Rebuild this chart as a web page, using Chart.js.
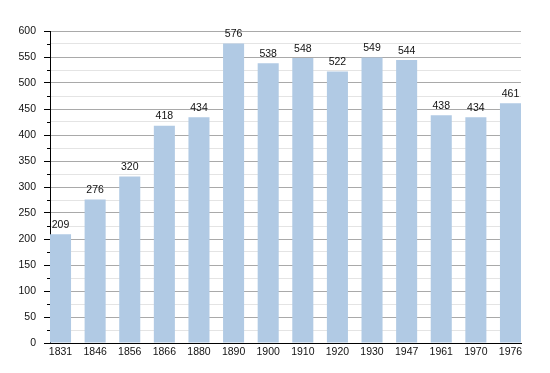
<!DOCTYPE html>
<html>
<head>
<meta charset="utf-8">
<script src="https://cdn.jsdelivr.net/npm/chart.js@4"></script>
<style>
  html, body { margin: 0; padding: 0; background: #fff; }
  #wrap { width: 550px; height: 373px; }
</style>
</head>
<body>
<div id="wrap"><canvas id="popChart" width="550" height="373"></canvas></div>
<script>
const years = ["1831", "1846", "1856", "1866", "1880", "1890", "1900", "1910", "1920", "1930", "1947", "1961", "1970", "1976"];
const population = [209, 276, 320, 418, 434, 576, 538, 548, 522, 549, 544, 438, 434, 461];
const yTicks = [0, 50, 100, 150, 200, 250, 300, 350, 400, 450, 500, 550, 600];

const FONT = "'Liberation Sans', Arial, sans-serif";

// value labels above bars + short minor ticks on the y axis
const extras = {
  id: "extras",
  afterDatasetsDraw(chart) {
    const { ctx } = chart;
    const y = chart.scales.y;
    ctx.save();
    ctx.strokeStyle = "#000";
    ctx.lineWidth = 1;
    for (let v = 25; v < 600; v += 50) {
      const py = Math.round(y.getPixelForValue(v)) + 0.5;
      ctx.beginPath();
      ctx.moveTo(chart.chartArea.left - 3, py);
      ctx.lineTo(chart.chartArea.left, py);
      ctx.stroke();
    }
    ctx.font = "10.5px " + FONT;
    ctx.fillStyle = "#111";
    ctx.textAlign = "center";
    ctx.textBaseline = "bottom";
    chart.getDatasetMeta(0).data.forEach((bar, i) => {
      ctx.fillText(String(population[i]), bar.x, bar.y - 4);
    });
    ctx.restore();
  }
};

new Chart(document.getElementById("popChart"), {
  type: "bar",
  data: {
    datasets: [{
      data: population.map((v, i) => ({ x: i, y: v })),
      backgroundColor: "#b1cae4",
      borderWidth: 0,
      barPercentage: 0.608,
      categoryPercentage: 1
    }]
  },
  options: {
    responsive: false,
    animation: false,
    layout: { padding: { top: 31, right: 29, bottom: 0, left: 0 } },
    plugins: { legend: { display: false }, tooltip: { enabled: false } },
    scales: {
      x: {
        type: "linear",
        offset: false,
        min: -0.304,
        max: 13.304,
        afterBuildTicks: (scale) => {
          scale.ticks = years.map((_, i) => ({ value: i }));
        },
        afterFit: (scale) => { scale.height = 30; },
        ticks: {
          callback: (value) => years[value] ?? "",
          color: "#111",
          font: { family: FONT, size: 10.5 },
          padding: 3,
          maxRotation: 0,
          autoSkip: false
        },
        grid: { display: false, drawTicks: false, offset: false },
        border: { display: true, color: "#000", width: 1 }
      },
      y: {
        min: 0,
        max: 600,
        afterBuildTicks: (scale) => {
          const t = [];
          for (let v = 0; v <= 600; v += 25) t.push({ value: v });
          scale.ticks = t;
        },
        afterFit: (scale) => { scale.width = 50; },
        ticks: {
          callback: (value) => (yTicks.includes(value) ? String(value) : ""),
          color: "#111",
          font: { family: FONT, size: 10.5 },
          padding: 8,
          autoSkip: false
        },
        grid: {
          color: (c) => (c.tick && c.tick.value % 50 === 0 ? "#a9a9a9" : "#e4e4e4"),
          tickColor: (c) => (c.tick && c.tick.value % 50 === 0 ? "#000" : "rgba(0,0,0,0)"),
          tickLength: 6,
          lineWidth: 1
        },
        border: { display: true, color: "#000", width: 1 }
      }
    }
  },
  plugins: [extras]
});
</script>
</body>
</html>
